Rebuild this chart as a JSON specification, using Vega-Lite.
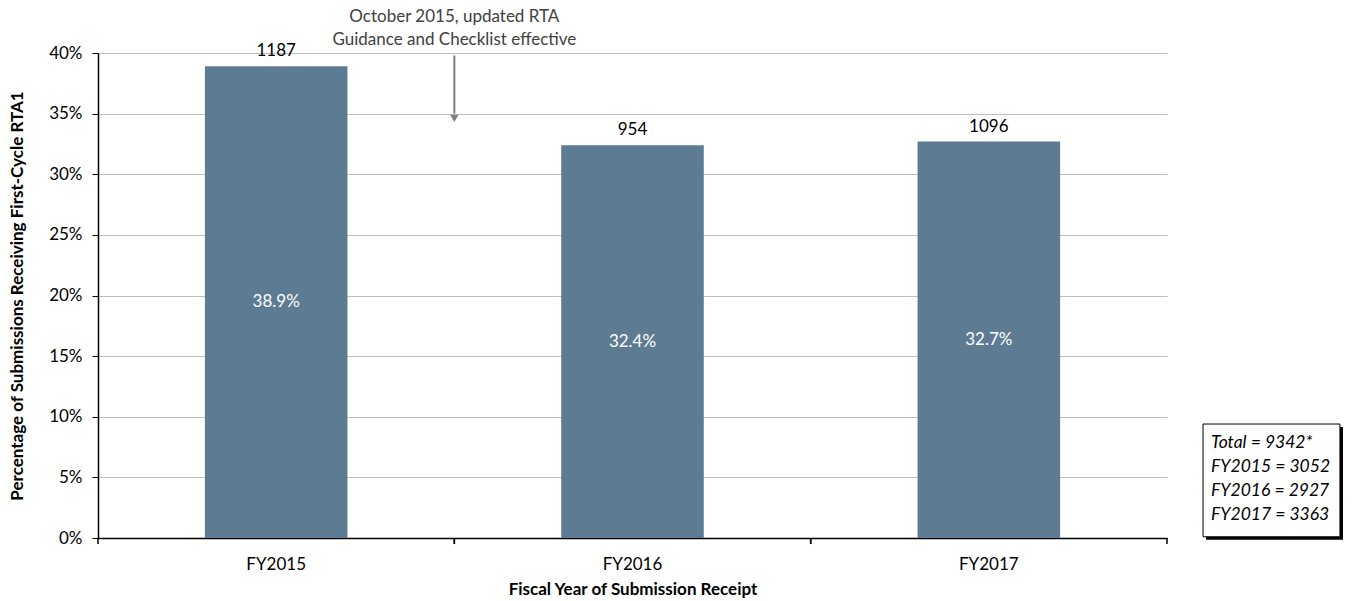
{
  "$schema": "https://vega.github.io/schema/vega-lite/v6.json",
  "width": 1069,
  "height": 485,
  "padding": {"left": 8, "top": 8, "right": 14, "bottom": 2},
  "config": {
    "view": {"stroke": null},
    "font": "Lato",
    "axis": {"labelFont": "Lato", "titleFont": "Lato", "labelColor": "#000000", "titleColor": "#000000", "domainColor": "#000000", "tickColor": "#000000"}
  },
  "data": {"values": [
    {"year": "FY2015", "pct": 0.389, "count": 1187},
    {"year": "FY2016", "pct": 0.324, "count": 954},
    {"year": "FY2017", "pct": 0.327, "count": 1096}
  ]},
  "resolve": {"scale": {"x": "independent"}},
  "layer": [
    {
      "layer": [
        {
          "mark": {"type": "bar", "color": "#5d7b93", "width": {"band": 0.4}},
          "encoding": {
            "x": {"field": "year", "type": "nominal", "scale": {"type": "band", "paddingInner": 0, "paddingOuter": 0},
              "axis": {"title": "Fiscal Year of Submission Receipt", "labelAngle": 0, "labelFontSize": 17, "titleFontSize": 17, "titleFontWeight": "bold", "ticks": false, "labelPadding": 18, "titlePadding": 9, "domainWidth": 1.5}},
            "y": {"field": "pct", "type": "quantitative", "scale": {"domain": [0, 0.4], "nice": false},
              "axis": {"title": "Percentage of Submissions Receiving First-Cycle RTA1", "format": "%", "values": [0, 0.05, 0.1, 0.15, 0.2, 0.25, 0.3, 0.35, 0.4], "labelFontSize": 17, "titleFontSize": 17, "titleFontWeight": "bold", "tickSize": 6, "labelPadding": 10, "titlePadding": 22, "gridColor": "#bfbfbf", "domainWidth": 1.5}}
          }
        },
        {
          "mark": {"type": "text", "baseline": "bottom", "dy": -6, "fontSize": 17, "color": "#000000"},
          "encoding": {
            "x": {"field": "year", "type": "nominal"},
            "y": {"field": "pct", "type": "quantitative"},
            "text": {"field": "count", "type": "quantitative"}
          }
        },
        {
          "mark": {"type": "text", "baseline": "middle", "fontSize": 17, "color": "#ffffff"},
          "encoding": {
            "x": {"field": "year", "type": "nominal"},
            "y": {"field": "pct", "type": "quantitative", "stack": "zero", "bandPosition": 0.5},
            "text": {"field": "pct", "type": "quantitative", "format": ".1%"}
          }
        },
        {
          "mark": {"type": "rule", "color": "#000000", "strokeWidth": 1.5},
          "encoding": {
            "x": {"field": "year", "type": "nominal", "bandPosition": 0},
            "y": {"datum": 0},
            "y2": {"datum": -0.005}
          }
        },
        {
          "mark": {"type": "rule", "color": "#000000", "strokeWidth": 1.5},
          "encoding": {
            "x": {"field": "year", "type": "nominal", "bandPosition": 1},
            "y": {"datum": 0},
            "y2": {"datum": -0.005}
          }
        },
        {
          "data": {"values": [{"year": "FY2015", "note": ["October 2015, updated RTA", "Guidance and Checklist effective"]}]},
          "layer": [
            {
              "mark": {"type": "rule", "color": "#7f7f7f", "strokeWidth": 2},
              "encoding": {
                "x": {"field": "year", "type": "nominal", "bandPosition": 1},
                "y": {"datum": 0.398},
                "y2": {"datum": 0.35}
              }
            },
            {
              "mark": {"type": "point", "shape": "triangle-down", "filled": true, "color": "#7f7f7f", "size": 70, "opacity": 1},
              "encoding": {
                "x": {"field": "year", "type": "nominal", "bandPosition": 1},
                "y": {"datum": 0.346}
              }
            },
            {
              "mark": {"type": "text", "baseline": "top", "align": "center", "fontSize": 17, "lineHeight": 23, "color": "#404040"},
              "encoding": {
                "x": {"field": "year", "type": "nominal", "bandPosition": 1},
                "y": {"datum": 0.436},
                "text": {"field": "note", "type": "nominal"}
              }
            }
          ]
        }
      ]
    },
    {
      "data": {"values": [{"lines": ["Total = 9342*", "FY2015 = 3052", "FY2016 = 2927", "FY2017 = 3363"]}]},
      "layer": [
        {
          "mark": {"type": "rect", "color": "#000000", "xOffset": 3, "x2Offset": 3, "yOffset": 3, "y2Offset": 3},
          "encoding": {
            "x": {"datum": 1.0337, "type": "quantitative", "scale": {"domain": [0, 1], "nice": false, "zero": false}, "axis": null},
            "x2": {"datum": 1.1618},
            "y": {"datum": 0.094},
            "y2": {"datum": 0.001}
          }
        },
        {
          "mark": {"type": "rect", "fill": "#ffffff", "stroke": "#000000", "strokeWidth": 1},
          "encoding": {
            "x": {"datum": 1.0337, "type": "quantitative"},
            "x2": {"datum": 1.1618},
            "y": {"datum": 0.094},
            "y2": {"datum": 0.001}
          }
        },
        {
          "mark": {"type": "text", "baseline": "top", "align": "left", "fontSize": 17.5, "fontStyle": "italic", "lineHeight": 24, "color": "#000000"},
          "encoding": {
            "x": {"datum": 1.0412, "type": "quantitative"},
            "y": {"datum": 0.086},
            "text": {"field": "lines", "type": "nominal"}
          }
        }
      ]
    }
  ]
}
